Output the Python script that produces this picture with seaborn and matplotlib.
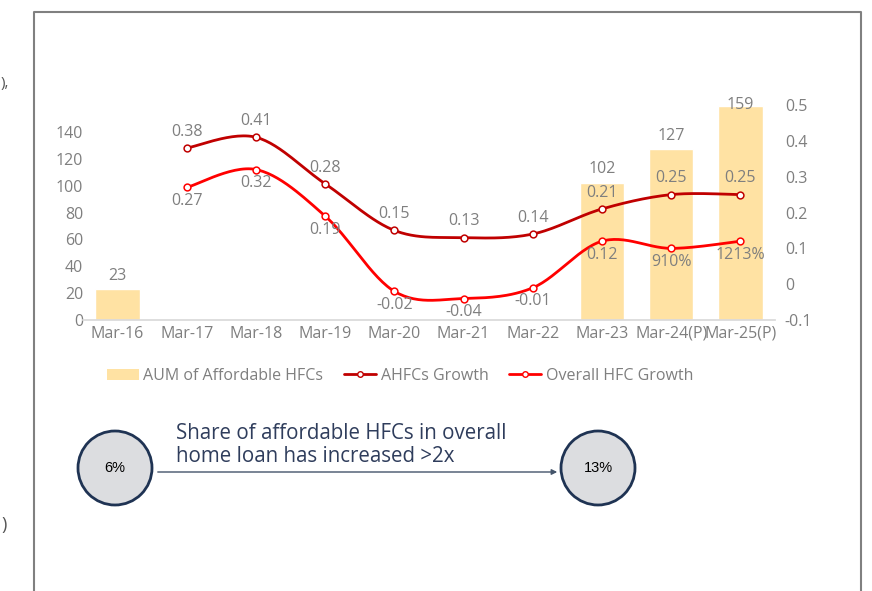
import numpy as np
import pandas as pd
import matplotlib
matplotlib.use("Agg")
import matplotlib.pyplot as plt
from matplotlib.patches import Ellipse, Rectangle
from matplotlib.lines import Line2D
import seaborn as sns

# --- data ---
categories = ["Mar-16", "Mar-17", "Mar-18", "Mar-19", "Mar-20",
              "Mar-21", "Mar-22", "Mar-23", "Mar-24(P)", "Mar-25(P)"]
aum = [23, np.nan, np.nan, np.nan, np.nan, np.nan, np.nan, 102, 127, 159]
ahfc_growth = [np.nan, 0.38, 0.41, 0.28, 0.15, 0.13, 0.14, 0.21, 0.25, 0.25]
overall_growth = [np.nan, 0.27, 0.32, 0.19, -0.02, -0.04, -0.01, 0.12, 0.10, 0.12]
ahfc_labels = ["", "0.38", "0.41", "0.28", "0.15", "0.13", "0.14", "0.21", "0.25", "0.25"]
overall_labels = ["", "0.27", "0.32", "0.19", "-0.02", "-0.04", "-0.01", "0.12", "910%", "1213%"]
left_ticks = [0, 20, 40, 60, 80, 100, 120, 140]
right_ticks = [-0.1, 0, 0.1, 0.2, 0.3, 0.4, 0.5]

BAR = "#FFE2A3"
DARK_RED = "#C00000"
RED = "#FF0000"
GREY = "#7F7F7F"
NAVY = "#1F3353"
FS = 11.5

sns.set_theme(style="white")
plt.rcParams["font.family"] = ["Open Sans", "DejaVu Sans"]

df = pd.DataFrame({"Period": categories, "AUM": aum})

fig = plt.figure(figsize=(8.72, 5.91), dpi=100)
ax = fig.add_axes([0.0952, 0.4585, 0.7936, 0.3638])

sns.barplot(data=df, x="Period", y="AUM", order=categories, color=BAR,
            width=0.64, saturation=1, ax=ax)
ax.set_xlim(-0.5, len(categories) - 0.5)
ax.set_ylim(0, 160)
ax.set_yticks(left_ticks)
ax.set_xlabel("")
ax.set_ylabel("")
for s in ["top", "right", "left"]:
    ax.spines[s].set_visible(False)
ax.spines["bottom"].set_color("#D9D9D9")
ax.tick_params(axis="y", length=0, colors=GREY, labelsize=FS, pad=0)
ax.tick_params(axis="x", length=0, colors=GREY, labelsize=FS, pad=4)

for i, v in enumerate(aum):
    if not np.isnan(v):
        # labels that would leave the plot area sit just inside it, as in the source
        off = 4 if v < 150 else -5
        ax.annotate(f"{v:g}", (i, v), xytext=(0, off), textcoords="offset points",
                    ha="center", va="bottom", color=GREY, fontsize=FS,
                    annotation_clip=False)

ax2 = ax.twinx()
ax2.set_ylim(-0.1, 0.5)
ax2.set_yticks(right_ticks)
ax2.set_yticklabels([f"{t:g}" for t in right_ticks])
for s in ["top", "right", "left", "bottom"]:
    ax2.spines[s].set_visible(False)
ax2.tick_params(axis="y", length=0, colors=GREY, labelsize=FS, pad=7)
ax2.grid(False)
ax.grid(False)


def smooth(xs, ys, n=30):
    # Excel-style smoothed line: bezier segments with catmull-rom control points
    pts = np.column_stack([xs, ys])
    out = []
    for k in range(len(pts) - 1):
        p0 = pts[max(k - 1, 0)]
        p1 = pts[k]
        p2 = pts[k + 1]
        p3 = pts[min(k + 2, len(pts) - 1)]
        c1 = p1 + (p2 - p0) / 6
        c2 = p2 - (p3 - p1) / 6
        t = np.linspace(0, 1, n)[:, None]
        seg = (1 - t) ** 3 * p1 + 3 * (1 - t) ** 2 * t * c1 + 3 * (1 - t) * t ** 2 * c2 + t ** 3 * p2
        out.append(seg if k == 0 else seg[1:])
    out = np.vstack(out)
    return out[:, 0], out[:, 1]


series = [(ahfc_growth, DARK_RED, ahfc_labels, 6, "bottom"),
          (overall_growth, RED, overall_labels, -4, "top")]
for vals, col, labs, dy, va in series:
    x = np.array([i for i, v in enumerate(vals) if not np.isnan(v)], dtype=float)
    y = np.array([v for v in vals if not np.isnan(v)])
    sx, sy = smooth(x, y)
    sns.lineplot(x=sx, y=sy, color=col, linewidth=2, sort=False, ax=ax2)
    sns.scatterplot(x=x, y=y, color="white", edgecolor=col, s=24, linewidth=1.1,
                    zorder=5, ax=ax2)
    for xi, yi, lab in zip(x, y, [l for l in labs if l]):
        ax2.annotate(lab, (xi, yi), xytext=(0, dy), textcoords="offset points",
                     ha="center", va=va, color=GREY, fontsize=FS,
                     annotation_clip=False)

# legend
handles = [
    Rectangle((0, 0), 1, 0.35, facecolor=BAR, edgecolor="none"),
    Line2D([0], [0], color=DARK_RED, lw=2, marker="o", markersize=4,
           markerfacecolor="white", markeredgecolor=DARK_RED),
    Line2D([0], [0], color=RED, lw=2, marker="o", markersize=4,
           markerfacecolor="white", markeredgecolor=RED),
]
leg = fig.legend(handles, ["AUM of Affordable HFCs", "AHFCs Growth", "Overall HFC Growth"],
                 loc="center", bbox_to_anchor=(400 / 872, 1 - 376 / 591), ncol=3,
                 frameon=False, fontsize=FS, handlelength=2.0, handletextpad=0.3,
                 columnspacing=1.3, labelcolor=GREY)

# slide frame
frame = fig.add_axes([0, 0, 1, 1], zorder=-1)
frame.set_xlim(0, 872)
frame.set_ylim(591, 0)
frame.axis("off")
frame.plot([34, 34, 861, 861], [600, 12, 12, 600], color="#808080", lw=1.5)

# share callout
for cx, txt in [(115, "6%"), (598, "13%")]:
    frame.add_patch(Ellipse((cx, 468), 74, 74, facecolor="#DCDDE0",
                            edgecolor=NAVY, lw=2))
    frame.text(cx, 468, txt, ha="center", va="center", fontsize=10.5,
               color="black", family=["Liberation Sans", "DejaVu Sans"])
frame.annotate("", xy=(560, 472), xytext=(155, 472),
               arrowprops=dict(arrowstyle="-|>", color="#44546A", lw=1,
                               mutation_scale=8))
frame.text(176, 445, "Share of affordable HFCs in overall\nhome loan has increased >2x",
           ha="left", va="center", fontsize=14.8, color="#2F3D5C",
           linespacing=1.12)

# cut-off text fragments at the left edge of the slide
frame.text(1, 84, "),", fontsize=11, color="#555555", va="center")
frame.text(1, 525, ")", fontsize=13, color="#555555", va="center")

fig.savefig("out.png", dpi=100)
